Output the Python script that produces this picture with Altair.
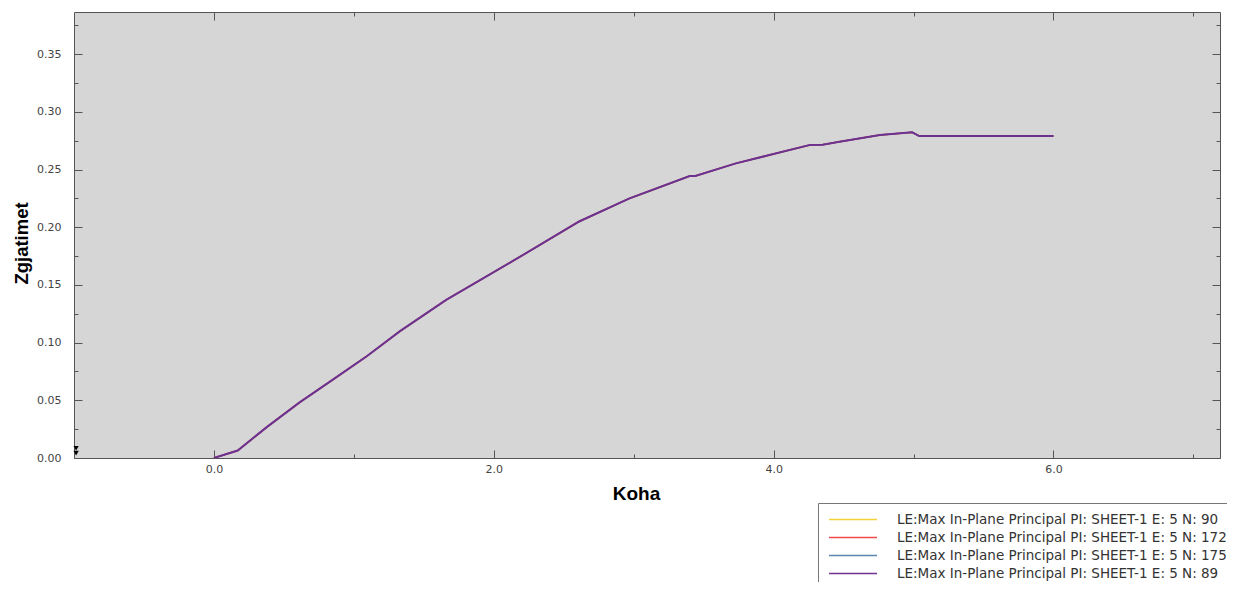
import altair as alt
import pandas as pd

# ---- data ----
series_names = [
    "LE:Max In-Plane Principal PI: SHEET-1 E: 5 N: 90",
    "LE:Max In-Plane Principal PI: SHEET-1 E: 5 N: 172",
    "LE:Max In-Plane Principal PI: SHEET-1 E: 5 N: 175",
    "LE:Max In-Plane Principal PI: SHEET-1 E: 5 N: 89",
]
series_colors = ["#f2d338", "#ee4a4a", "#5b84b1", "#70308f"]

koha = [0.0, 0.17, 0.38, 0.61, 0.85, 1.09, 1.33, 1.66, 2.14, 2.61, 2.97,
        3.40, 3.44, 3.73, 3.97, 4.26, 4.35, 4.47, 4.76, 4.99, 5.04, 6.0]
zgjatimet = [0.0, 0.0065, 0.027, 0.048, 0.068, 0.088, 0.110, 0.137, 0.171,
             0.205, 0.225, 0.2444, 0.2444, 0.2554, 0.2626, 0.2714, 0.2716,
             0.2741, 0.2800, 0.2823, 0.2791, 0.2791]

x_major = [0, 2, 4, 6]
x_minor = [1, 3, 5, 7]
y_major = [0.0, 0.05, 0.10, 0.15, 0.20, 0.25, 0.30, 0.35]
y_minor = [0.025, 0.075, 0.125, 0.175, 0.225, 0.275, 0.325, 0.375]

marker_t = [-0.985, -0.985]
marker_v = [0.0085, 0.0042]

# ---- tables ----
rows = []
for name in series_names:
    for t, v in zip(koha, zgjatimet):
        rows.append({"series": name, "t": t, "v": v})
df = pd.DataFrame(rows)
markers = pd.DataFrame({"t": marker_t, "v": marker_v})

W, H = 1146, 446
xs = alt.Scale(domain=[-1.0, 7.19], nice=False, zero=False)
ys = alt.Scale(domain=[0.0, 0.3866], nice=False, zero=False)
cs = alt.Scale(domain=series_names, range=series_colors)

legend = alt.Legend(
    orient="none", legendX=744, legendY=491, title=None,
    symbolType="stroke", symbolSize=2304, symbolStrokeWidth=1.5,
    clipHeight=13, rowPadding=4, padding=10,
    strokeColor="#777", fillColor="white",
    labelOffset=19, symbolOffset=0, labelLimit=600,
    labelFont="DejaVu Sans", labelFontSize=13.5, labelColor="#333",
)

main_x_axis = alt.Axis(
    values=x_major, format=".1f", ticks=False, domain=False, grid=False,
    labelFont="DejaVu Sans", labelFontSize=11, labelColor="#444",
    labelPadding=5, title="Koha", titleFont="Liberation Sans",
    titleFontSize=19, titleFontWeight="bold", titleColor="#000",
    titleX=562, titleY=26, titleBaseline="top", titleAlign="center",
)
main_y_axis = alt.Axis(
    values=y_major, format=".2f", ticks=False, domain=False, grid=False,
    labelFont="DejaVu Sans", labelFontSize=11, labelColor="#444",
    labelPadding=13, title="Zgjatimet", titleFont="Liberation Sans",
    titleFontSize=18.5, titleFontWeight="bold", titleColor="#000",
    titleX=-53, titleY=231, titleAngle=270, titleBaseline="middle",
    titleAlign="center",
)

base = alt.Chart(df)


def line_layer(i):
    name = series_names[i]
    main = i == 0
    return base.transform_filter(alt.datum.series == name).mark_line(
        strokeWidth=2 if i == 3 else 1.5, clip=True
    ).encode(
        x=alt.X("t:Q", scale=xs, axis=main_x_axis if main else None),
        y=alt.Y("v:Q", scale=ys, axis=main_y_axis if main else None),
        color=alt.Color("series:N", scale=cs, legend=legend),
        order=alt.Order("t:Q"),
    )


def tick_axis(orient, offset, vals, size):
    return alt.Axis(
        orient=orient, offset=offset, values=vals, tickSize=size,
        ticks=True, tickColor="#555", tickWidth=1, labels=False,
        domain=False, grid=False, title=None,
    )


def tick_layer(xo, xoff, xv, yo, yoff, yv, size):
    return base.mark_point(opacity=0).encode(
        x=alt.X("t:Q", scale=xs, axis=tick_axis(xo, xoff, xv, size)),
        y=alt.Y("v:Q", scale=ys, axis=tick_axis(yo, yoff, yv, size)),
    )


ticks = [
    tick_layer("top", -H, x_major, "right", -W, y_major, 8),
    tick_layer("top", -H, x_minor, "right", -W, y_minor, 4),
    tick_layer("bottom", -H, x_major, "left", -W, y_major, 8),
    tick_layer("bottom", -H, x_minor, "left", -W, y_minor, 4),
]

marker_layer = alt.Chart(markers).mark_point(
    shape="triangle-down", filled=True, color="#000", size=28, opacity=1
).encode(
    x=alt.X("t:Q", scale=xs, axis=None),
    y=alt.Y("v:Q", scale=ys, axis=None),
)

chart = alt.layer(
    *[line_layer(i) for i in range(4)], *ticks, marker_layer
).resolve_axis(
    x="independent", y="independent"
).properties(
    width=W, height=H, background="white",
    padding={"left": 66, "top": 4, "right": 7, "bottom": 124},
    autosize=alt.AutoSizeParams(type="none"),
).configure_view(
    fill="#d6d6d6", stroke="#555", strokeWidth=1
)

chart.save("out.html", embed_options={"renderer": "svg", "actions": False})
